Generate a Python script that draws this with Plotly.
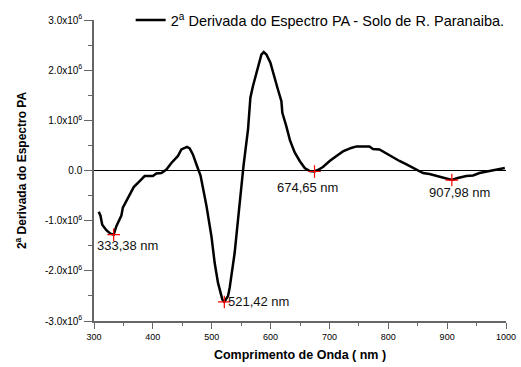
import plotly.graph_objects as go

# Second derivative of the photoacoustic spectrum (values in units of 10^6)
wavelength_nm = [
    308, 311, 314, 321, 328, 333.38, 338, 346.5, 349, 356, 363.5, 367.5, 377.6,
    386, 400, 406, 414.5, 423, 431.5, 442.7, 448.5, 458, 462.6, 468, 475, 481,
    486, 491, 499.5, 505, 510.7, 513.6, 518, 521.42, 527.7, 530.5, 533.4, 539,
    544.7, 550.4, 554, 561.7, 565.7, 570, 576, 581.5, 584.4, 588.3, 593, 599.7,
    604, 612.6, 618.4, 620, 626.8, 633, 641, 649.5, 658, 666.5, 674.65, 680.5,
    689, 700.4, 712, 723, 737, 746, 768, 774, 785, 797, 808, 819, 831, 842,
    850.5, 859, 870, 882, 893, 904, 907.98, 918, 932.6, 944, 955, 972, 989, 998,
]
deriv_e6 = [
    -0.82, -0.90, -1.08, -1.19, -1.26, -1.28, -1.11, -0.90, -0.74, -0.58, -0.44,
    -0.33, -0.21, -0.11, -0.11, -0.06, -0.05, 0.02, 0.15, 0.29, 0.42, 0.47, 0.44,
    0.32, 0.09, -0.10, -0.40, -0.70, -1.31, -1.84, -2.24, -2.37, -2.57, -2.62,
    -2.50, -2.34, -2.11, -1.64, -0.98, -0.25, 0.09, 0.82, 1.45, 1.68, 1.95, 2.18,
    2.31, 2.36, 2.31, 2.15, 1.95, 1.61, 1.38, 1.15, 0.88, 0.60, 0.36, 0.19, 0.05,
    -0.01, -0.02, 0.01, 0.07, 0.19, 0.29, 0.38, 0.45, 0.48, 0.48, 0.43, 0.42,
    0.34, 0.25, 0.19, 0.12, 0.05, -0.01, -0.05, -0.07, -0.11, -0.15, -0.19,
    -0.19, -0.15, -0.11, -0.10, -0.05, -0.01, 0.02, 0.05,
]

# Marked minima
min_nm = [333.38, 521.42, 674.65, 907.98]
min_val = [-1.28, -2.62, -0.02, -0.19]
min_labels = ["333,38 nm", "521,42 nm", "674,65 nm", "907,98 nm"]

x_ticks = [300, 400, 500, 600, 700, 800, 900, 1000]
x_ticktext = ["300", "400", "500", "600", "700", "800", "900", "1000"]
y_ticks = [-3, -2, -1, 0, 1, 2, 3]
y_ticktext = ["-3.0x10<sup>6</sup>", "-2.0x10<sup>6</sup>", "-1.0x10<sup>6</sup>", "0.0",
              "1.0x10<sup>6</sup>", "2.0x10<sup>6</sup>", "3.0x10<sup>6</sup>"]

FONT = "Liberation Sans, Arial, sans-serif"

fig = go.Figure()
fig.add_trace(go.Scatter(
    x=wavelength_nm, y=deriv_e6, mode="lines",
    line=dict(color="black", width=2.5),
    name="2<sup>a</sup> Derivada do Espectro PA - Solo de R. Paranaiba.",
    showlegend=True,
))
fig.add_trace(go.Scatter(
    x=min_nm, y=min_val, mode="markers",
    marker=dict(symbol="cross-thin", size=9, line=dict(color="red", width=1.2)),
    showlegend=False, hoverinfo="skip",
))

# value labels next to the minima
offsets = [
    dict(xanchor="center", yanchor="top", xshift=14, yshift=-1),
    dict(xanchor="left", yanchor="middle", xshift=2, yshift=0),
    dict(xanchor="center", yanchor="top", xshift=-7, yshift=-6),
    dict(xanchor="center", yanchor="top", xshift=8, yshift=-3),
]
for nm, v, txt, off in zip(min_nm, min_val, min_labels, offsets):
    fig.add_annotation(x=nm, y=v, xref="x", yref="y", text=txt, showarrow=False,
                       font=dict(family=FONT, size=13, color="#111"), **off)

fig.update_layout(
    width=521, height=367,
    margin=dict(l=94, r=15, t=20, b=46, autoexpand=False),
    paper_bgcolor="white", plot_bgcolor="white",
    font=dict(family=FONT, color="black"),
    legend=dict(x=0.089, y=1.0, xanchor="left", yanchor="middle",
                bgcolor="rgba(0,0,0,0)", font=dict(family=FONT, size=14.5),
                itemwidth=30, tracegroupgap=0),
    xaxis=dict(
        range=[300, 1000], tickmode="array", tickvals=x_ticks, ticktext=x_ticktext,
        showline=True, linecolor="#666", linewidth=1.5, showgrid=False, zeroline=False,
        ticks="outside", ticklen=6, tickcolor="#666", automargin=False,
        tickfont=dict(family=FONT, size=9),
        minor=dict(dtick=50, tick0=300, ticks="outside", ticklen=3, tickcolor="#666"),
        title=dict(text="<b>Comprimento de Onda ( nm )</b>", font=dict(family=FONT, size=12.5), standoff=10),
    ),
    yaxis=dict(
        range=[-3, 3], tickmode="array", tickvals=y_ticks, ticktext=y_ticktext,
        showline=True, linecolor="#666", linewidth=1.5, showgrid=False,
        zeroline=True, zerolinecolor="black", zerolinewidth=1,
        ticks="outside", ticklen=8, tickcolor="#666", automargin=False,
        tickfont=dict(family=FONT, size=10),
        minor=dict(dtick=0.5, tick0=0, ticks="outside", ticklen=4, tickcolor="#666"),
        title=dict(text="<b>2<sup>a</sup> Derivada do Espectro PA</b>", font=dict(family=FONT, size=12), standoff=16),
    ),
)

fig.write_html("out.html")
